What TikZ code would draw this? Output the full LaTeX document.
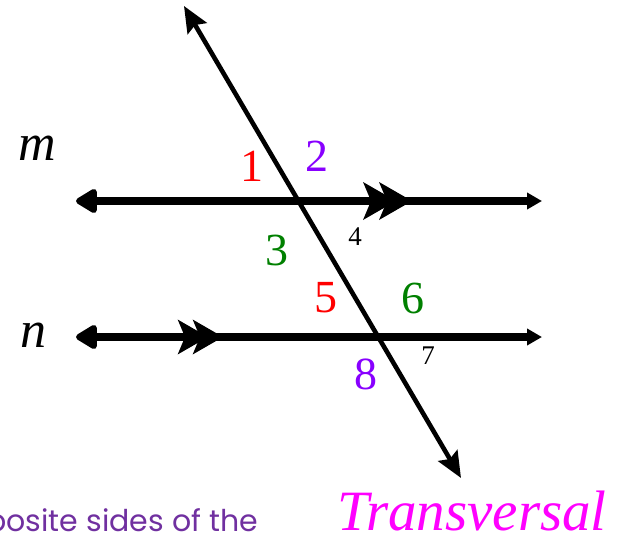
\documentclass[tikz,border=0pt]{standalone}
\usepackage{fontspec}
\setmainfont{Liberation Serif}
\newfontfamily\comicfont{Poppins}
\usetikzlibrary{arrows.meta}
\definecolor{angred}{HTML}{FF0000}
\definecolor{angpurple}{HTML}{8800FF}
\definecolor{anggreen}{HTML}{008000}
\definecolor{transmag}{HTML}{FF00FF}
\definecolor{notepurple}{HTML}{7030A0}
\tikzset{
  parline/.style={line width=8pt, {Triangle[length=24pt,width=27pt,round]}-{Triangle[length=15pt,width=16pt]}},
  transline/.style={line width=4.6pt, {Stealth[length=26pt,width=22pt,inset=4pt]}-{Stealth[length=26pt,width=22pt,inset=4pt]}},
  biglabel/.style={font=\fontsize{46}{46}\selectfont, inner sep=0pt},
  smalllabel/.style={font=\fontsize{27}{27}\selectfont, inner sep=0pt},
  linename/.style={font=\fontsize{52}{52}\selectfont\itshape, inner sep=0pt},
  chevron/.pic={\fill (0,0) -- (-33,-19) -- (-25,0) -- (-33,19) -- cycle;}
}
\begin{document}
\begin{tikzpicture}[x=1pt,y=-1pt]
\useasboundingbox (0,0) rectangle (620,540);
\clip (0,0) rectangle (620,540);
% coordinates
\coordinate (mL) at (76,201);
\coordinate (mR) at (542,201);
\coordinate (nL) at (76,337);
\coordinate (nR) at (542,337);
\coordinate (tT) at (184,6);
\coordinate (tB) at (461,478);
\coordinate (mM) at (412,201);
\coordinate (nM) at (223,337);
% lines
\draw[parline] (mL) -- (mR);
\draw[parline] (nL) -- (nR);
\pic at (mM) {chevron};
\pic at ([xshift=-16pt]mM) {chevron};
\pic[scale=0.92] at (nM) {chevron};
\pic[scale=0.92] at ([xshift=-15pt]nM) {chevron};
\draw[transline] (tT) -- (tB);
% line names
\node[linename] (m) at (37,148) {m};
\node[linename] (n) at (33,335) {n};
% angle labels
\node[biglabel, text=angred] (a1) at (252,166) {1};
\node[biglabel, text=angpurple] (a2) at (317,156) {2};
\node[biglabel, text=anggreen] (a3) at (277,250) {3};
\node[smalllabel] (a4) at (355,237) {4};
\node[biglabel, text=angred] (a5) at (326,298) {5};
\node[biglabel, text=anggreen] (a6) at (413,298) {6};
\node[smalllabel] (a7) at (428,356) {7};
\node[biglabel, text=angpurple] (a8) at (366,374) {8};
% texts
\node[font=\fontsize{57}{57}\selectfont\itshape, text=transmag, anchor=base east, inner sep=0pt] (tr) at (607,530) {Transversal};
\node[font=\comicfont\fontsize{30}{30}\selectfont, text=notepurple, anchor=base east, inner sep=0pt] (note) at (258,531) {opposite sides of the};
\end{tikzpicture}
\end{document}
